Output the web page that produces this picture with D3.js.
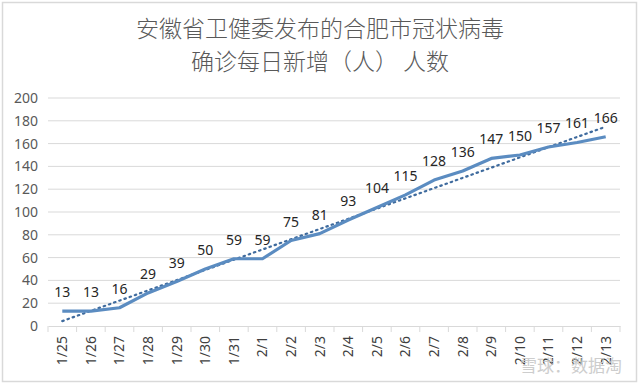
<!DOCTYPE html>
<html>
<head>
<meta charset="utf-8">
<script src="https://cdn.jsdelivr.net/npm/d3@7"></script>
<style>
  body { margin: 0; background: #fff; }
  svg { display: block; }
</style>
</head>
<body>
<svg id="chart" width="640" height="385"></svg>
<script>
// values
const dates = ["1/25","1/26","1/27","1/28","1/29","1/30","1/31","2/1","2/2","2/3",
               "2/4","2/5","2/6","2/7","2/8","2/9","2/10","2/11","2/12","2/13"];
const cases = [13,13,16,29,39,50,59,59,75,81,93,104,115,128,136,147,150,157,161,166];
const yTicks = [0,20,40,60,80,100,120,140,160,180,200];
const titleLines = ["安徽省卫健委发布的合肥市冠状病毒", "确诊每日新增（人） 人数"];

const svg = d3.select("#chart");
const W = 640, H = 385;
const margin = { top: 98, right: 20, bottom: 59, left: 48 };

const cjk = "'Noto Sans CJK SC', 'Noto Sans', sans-serif";
const num = "'Noto Sans', 'Liberation Sans', sans-serif";

// outer frame
svg.append("rect")
  .attr("x", 2.5).attr("y", 2.5)
  .attr("width", W - 6).attr("height", H - 6)
  .attr("fill", "#fff").attr("stroke", "#d9d9d9").attr("stroke-width", 1.5);

svg.append("g").selectAll("text")
  .data(titleLines)
  .join("text")
  .attr("x", W / 2)
  .attr("y", (d, i) => 37 + i * 33)
  .attr("text-anchor", "middle")
  .style("font-family", cjk)
  .style("font-size", "23px")
  .style("font-weight", 300)
  .attr("fill", "#595959")
  .text(d => d);

const x = d3.scaleBand()
  .domain(dates)
  .range([margin.left, W - margin.right]);

const y = d3.scaleLinear()
  .domain([0, 200])
  .range([H - margin.bottom, margin.top]);

// gridlines
svg.append("g").selectAll("line")
  .data(yTicks.slice(1))
  .join("line")
  .attr("x1", margin.left).attr("x2", W - margin.right)
  .attr("y1", d => y(d)).attr("y2", d => y(d))
  .attr("stroke", "#d9d9d9").attr("stroke-width", 1);

// y axis labels
const yAxis = svg.append("g")
  .attr("transform", `translate(${margin.left},0)`)
  .call(d3.axisLeft(y).tickValues(yTicks).tickSize(0).tickPadding(10));
yAxis.select(".domain").remove();
yAxis.selectAll("text")
  .style("font-family", num).style("font-size", "14px").attr("fill", "#595959");

// x axis with ticks on band edges
const xAxis = svg.append("g")
  .attr("transform", `translate(0,${y(0)})`)
  .call(d3.axisBottom(x).tickSize(0).tickPadding(0));
xAxis.select(".domain").attr("stroke", "#d9d9d9");
xAxis.selectAll("text")
  .attr("transform", "rotate(-90)")
  .attr("text-anchor", "end")
  .attr("x", -10).attr("y", 0).attr("dy", "0.35em")
  .style("font-family", num).style("font-size", "14px").attr("fill", "#404040");
xAxis.append("g").selectAll("line")
  .data(d3.range(dates.length + 1))
  .join("line")
  .attr("x1", i => margin.left + i * x.step())
  .attr("x2", i => margin.left + i * x.step())
  .attr("y1", 0).attr("y2", 6)
  .attr("stroke", "#d9d9d9");

const cx = d => x(d) + x.bandwidth() / 2;

// linear trend line (least squares)
const n = cases.length;
const idx = d3.range(n);
const mx = d3.mean(idx), my = d3.mean(cases);
const slope = d3.sum(idx, i => (i - mx) * (cases[i] - my)) / d3.sum(idx, i => (i - mx) ** 2);
const icpt = my - slope * mx;

svg.append("line")
  .attr("x1", cx(dates[0])).attr("y1", y(icpt))
  .attr("x2", cx(dates[n - 1])).attr("y2", y(icpt + slope * (n - 1)))
  .attr("stroke", "#3f6b9e").attr("stroke-width", 2.2)
  .attr("stroke-dasharray", "1.5,4").attr("stroke-linecap", "round");

// main line
const line = d3.line()
  .x((d, i) => cx(dates[i]))
  .y(d => y(d));

svg.append("path")
  .datum(cases)
  .attr("d", line)
  .attr("fill", "none")
  .attr("stroke", "#5b8cc1")
  .attr("stroke-width", 3.2)
  .attr("stroke-linejoin", "round");

// data labels
svg.append("g").selectAll("text")
  .data(cases)
  .join("text")
  .attr("x", (d, i) => cx(dates[i]))
  .attr("y", d => y(d) - 14)
  .attr("text-anchor", "middle")
  .style("font-family", num).style("font-size", "14px")
  .attr("fill", "#262626")
  .text(d => d);

// watermark
svg.append("text")
  .attr("x", 622).attr("y", 372)
  .attr("text-anchor", "end")
  .style("font-family", cjk).style("font-size", "17px")
  .attr("fill", "#c8c8c8").attr("opacity", 0.9)
  .text("雪球：数据淘");
</script>
</body>
</html>
